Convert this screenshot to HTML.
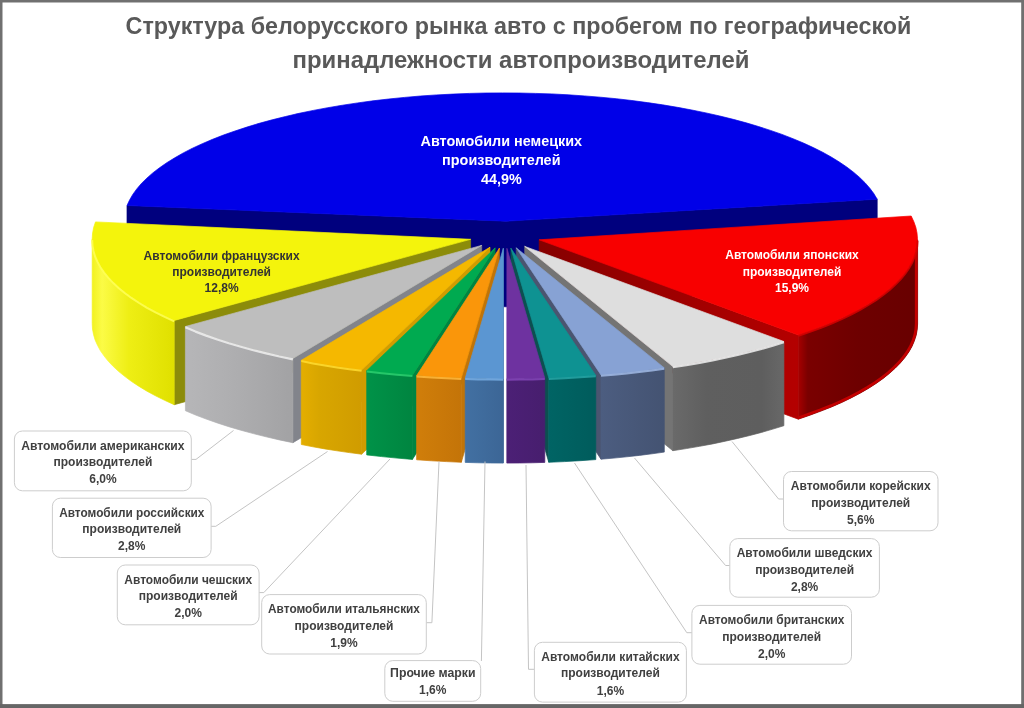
<!DOCTYPE html>
<html lang="ru"><head><meta charset="utf-8"><title>Структура белорусского рынка авто с пробегом</title>
<style>
html,body{margin:0;padding:0;background:#fff;}
body{width:1024px;height:708px;overflow:hidden;font-family:"Liberation Sans",sans-serif;}
svg{display:block}
.ttl{font-family:"Liberation Sans",sans-serif;font-weight:bold;font-size:24px;fill:#595959}
.lb{font-family:"Liberation Sans",sans-serif;font-weight:bold;font-size:12px;fill:#404040;text-anchor:middle}
.big{font-size:14.4px}
#pie path{stroke-width:0.7;stroke-linejoin:round}
</style></head><body>
<svg width="1024" height="708" viewBox="0 0 1024 708">
<defs>
<linearGradient id="c1" gradientUnits="userSpaceOnUse" x1="539.2" y1="0" x2="798.3" y2="0"><stop offset="0" stop-color="#860000"/><stop offset="1" stop-color="#b40000"/></linearGradient>
<linearGradient id="w1" gradientUnits="userSpaceOnUse" x1="798.3" y1="0" x2="917.6" y2="0"><stop offset="0" stop-color="#a60000"/><stop offset="0.08" stop-color="#7a0000"/><stop offset="0.5" stop-color="#6e0000"/><stop offset="1" stop-color="#680000"/></linearGradient>
<clipPath id="cp1"><path d="M917.6 239.8 L917.2 245.5 L916.2 251 L914.4 256.6 L912 262.2 L908.9 267.7 L905.1 273.1 L900.6 278.5 L895.4 283.8 L889.6 289.1 L883.2 294.2 L876.1 299.3 L868.4 304.2 L860.1 309 L851.1 313.7 L841.7 318.3 L831.6 322.7 L821 326.9 L809.9 331 L798.3 335 L798.3 419.2 L809.9 415.2 L821 411.1 L831.6 406.9 L841.7 402.5 L851.1 397.9 L860.1 393.2 L868.4 388.4 L876.1 383.5 L883.2 378.4 L889.6 373.3 L895.4 368 L900.6 362.7 L905.1 357.3 L908.9 351.9 L912 346.4 L914.4 340.8 L916.2 335.2 L917.2 329.7 L917.6 324Z"/></clipPath>
<linearGradient id="w11" gradientUnits="userSpaceOnUse" x1="92.2" y1="0" x2="174.2" y2="0"><stop offset="0" stop-color="#f2f220"/><stop offset="0.12" stop-color="#fbfb46"/><stop offset="0.45" stop-color="#eeee14"/><stop offset="1" stop-color="#e0e000"/></linearGradient>
<linearGradient id="w2" gradientUnits="userSpaceOnUse" x1="672.8" y1="0" x2="783.9" y2="0"><stop offset="0" stop-color="#6a6a6a"/><stop offset="0.3" stop-color="#5f5f5f"/><stop offset="0.8" stop-color="#5e5e5e"/><stop offset="1" stop-color="#686868"/></linearGradient>
<linearGradient id="w10" gradientUnits="userSpaceOnUse" x1="185.4" y1="0" x2="292.9" y2="0"><stop offset="0" stop-color="#b6b6b8"/><stop offset="0.5" stop-color="#adadaf"/><stop offset="1" stop-color="#a2a2a4"/></linearGradient>
<linearGradient id="w3" gradientUnits="userSpaceOnUse" x1="601" y1="0" x2="664.3" y2="0"><stop offset="0" stop-color="#4c5d80"/><stop offset="1" stop-color="#445372"/></linearGradient>
<linearGradient id="w9" gradientUnits="userSpaceOnUse" x1="301.3" y1="0" x2="361.6" y2="0"><stop offset="0" stop-color="#e4ae00"/><stop offset="0.3" stop-color="#d8a600"/><stop offset="1" stop-color="#d09c00"/></linearGradient>
<linearGradient id="w4" gradientUnits="userSpaceOnUse" x1="548.8" y1="0" x2="595.8" y2="0"><stop offset="0" stop-color="#006464"/><stop offset="1" stop-color="#005c5c"/></linearGradient>
<linearGradient id="w8" gradientUnits="userSpaceOnUse" x1="366.7" y1="0" x2="412.4" y2="0"><stop offset="0" stop-color="#009248"/><stop offset="1" stop-color="#008540"/></linearGradient>
<linearGradient id="w5" gradientUnits="userSpaceOnUse" x1="506.8" y1="0" x2="544.8" y2="0"><stop offset="0" stop-color="#4c2076"/><stop offset="1" stop-color="#471e6e"/></linearGradient>
<linearGradient id="w7" gradientUnits="userSpaceOnUse" x1="416.6" y1="0" x2="461.3" y2="0"><stop offset="0" stop-color="#d07e0a"/><stop offset="1" stop-color="#c47408"/></linearGradient>
<linearGradient id="w6" gradientUnits="userSpaceOnUse" x1="465.2" y1="0" x2="503.2" y2="0"><stop offset="0" stop-color="#4270a2"/><stop offset="1" stop-color="#3c6696"/></linearGradient>
</defs>
<rect x="0" y="0" width="1024" height="708" fill="#707070"/>
<rect x="0" y="704" width="1024" height="4" fill="#666"/>
<rect x="2.5" y="2.5" width="1018.7" height="701.6" fill="#fff"/>
<text x="125.6" y="34" class="ttl" textLength="785.8" lengthAdjust="spacingAndGlyphs">Структура белорусского рынка авто с пробегом по географической</text>
<text x="292.5" y="67.7" class="ttl" textLength="457" lengthAdjust="spacingAndGlyphs">принадлежности автопроизводителей</text>
<g id="pie">
<path d="M127 205.5 L506 221.2 L877.2 199.2 L877.2 284.8 L506 306.8 L127 291.1Z" fill="#00007e" stroke="#00007e"/>
<path d="M506 221.2 L127 205.5 L129.6 200 L132.8 194.4 L136.8 188.9 L141.4 183.5 L146.8 178.2 L152.8 172.9 L159.5 167.8 L166.8 162.7 L174.8 157.8 L183.3 152.9 L192.5 148.2 L202.3 143.7 L212.6 139.3 L223.5 135 L235 131 L246.9 127.1 L259.3 123.3 L272.2 119.8 L285.5 116.5 L299.2 113.3 L313.3 110.4 L327.8 107.7 L342.6 105.2 L357.7 102.9 L373 100.8 L388.7 99 L404.5 97.4 L420.5 96 L436.7 94.9 L453 94.1 L469.4 93.4 L485.9 93 L502.4 92.9 L518.9 93 L535.4 93.4 L551.8 93.9 L568.1 94.8 L584.3 95.9 L600.4 97.2 L616.2 98.7 L631.9 100.5 L647.3 102.6 L662.5 104.8 L677.3 107.3 L691.8 110 L706 112.9 L719.8 116 L733.1 119.3 L746.1 122.8 L758.5 126.5 L770.5 130.4 L782 134.4 L793 138.7 L803.4 143 L813.3 147.6 L822.6 152.2 L831.2 157 L839.3 162 L846.7 167 L853.5 172.2 L859.6 177.4 L865 182.7 L869.8 188.2 L873.8 193.6 L877.2 199.2Z" fill="#0000e8" stroke="#0000e8"/>
<path d="M539.2 239.8 L798.3 335 L798.3 419.2 L539.2 324Z" fill="url(#c1)" stroke="url(#c1)"/>
<path d="M917.6 239.8 L917.2 245.5 L916.2 251 L914.4 256.6 L912 262.2 L908.9 267.7 L905.1 273.1 L900.6 278.5 L895.4 283.8 L889.6 289.1 L883.2 294.2 L876.1 299.3 L868.4 304.2 L860.1 309 L851.1 313.7 L841.7 318.3 L831.6 322.7 L821 326.9 L809.9 331 L798.3 335 L798.3 419.2 L809.9 415.2 L821 411.1 L831.6 406.9 L841.7 402.5 L851.1 397.9 L860.1 393.2 L868.4 388.4 L876.1 383.5 L883.2 378.4 L889.6 373.3 L895.4 368 L900.6 362.7 L905.1 357.3 L908.9 351.9 L912 346.4 L914.4 340.8 L916.2 335.2 L917.2 329.7 L917.6 324Z" fill="url(#w1)" stroke="url(#w1)"/>
<path d="M798.3 419.2 L809.9 415.2 L821 411.1 L831.6 406.9 L841.7 402.5 L851.1 397.9 L860.1 393.2 L868.4 388.4 L876.1 383.5 L883.2 378.4 L889.6 373.3 L895.4 368 L900.6 362.7 L905.1 357.3 L908.9 351.9 L912 346.4 L914.4 340.8 L916.2 335.2 L917.2 329.7 L917.6 324 L917.6 245.8" fill="none" stroke="#c40000" style="stroke-width:5.5" clip-path="url(#cp1)"/>
<path d="M539.2 239.8 L911.2 216 L913.8 221.6 L915.8 227.2 L917 232.9 L917.5 238.6 L917.3 244.2 L916.4 249.9 L914.8 255.6 L912.5 261.2 L909.4 266.8 L905.7 272.3 L901.3 277.7 L896.1 283.1 L890.3 288.4 L883.9 293.7 L876.8 298.8 L869 303.8 L860.7 308.7 L851.7 313.4 L842.1 318.1 L832 322.5 L821.3 326.8 L810.1 331 L798.3 335Z" fill="#f80000" stroke="#f80000"/>
<path d="M917.6 240.6 L917.2 246.3 L916.2 251.8 L914.4 257.4 L912 263 L908.9 268.5 L905.1 273.9 L900.6 279.3 L895.4 284.6 L889.6 289.9 L883.2 295 L876.1 300.1 L868.4 305 L860.1 309.8 L851.1 314.5 L841.7 319.1 L831.6 323.5 L821 327.7 L809.9 331.8 L798.3 335.8" fill="none" stroke="#d80000" style="stroke-width:2.0" stroke-opacity="0.85"/>
<path d="M470.6 239.3 L174.2 320.5 L174.2 404.7 L470.6 323.5Z" fill="#8c8c0a" stroke="#8c8c0a"/>
<path d="M174.2 320.5 L164.6 316.1 L155.5 311.6 L147 307 L139.1 302.2 L131.7 297.4 L125 292.4 L118.8 287.4 L113.3 282.3 L108.3 277.1 L104.1 271.8 L100.4 266.5 L97.5 261.1 L95.1 255.7 L93.5 250.2 L92.5 244.8 L92.2 239.3 L92.2 323.5 L92.5 329 L93.5 334.4 L95.1 339.9 L97.5 345.3 L100.4 350.7 L104.1 356 L108.3 361.3 L113.3 366.5 L118.8 371.6 L125 376.6 L131.7 381.6 L139.1 386.4 L147 391.2 L155.5 395.8 L164.6 400.3 L174.2 404.7Z" fill="url(#w11)" stroke="url(#w11)"/>
<path d="M470.6 239.3 L174.2 320.5 L164.5 316.1 L155.4 311.5 L146.8 306.8 L138.8 302.1 L131.4 297.1 L124.6 292.1 L118.4 287 L112.8 281.8 L107.9 276.6 L103.7 271.2 L100.1 265.9 L97.1 260.4 L94.9 254.9 L93.3 249.4 L92.4 243.9 L92.2 238.4 L92.6 232.9 L93.7 227.3 L95.5 221.9Z" fill="#f4f40c" stroke="#f4f40c"/>
<path d="M174.2 321.3 L164.6 316.9 L155.5 312.4 L147 307.8 L139.1 303 L131.7 298.2 L125 293.2 L118.8 288.2 L113.3 283.1 L108.3 277.9 L104.1 272.6 L100.4 267.3 L97.5 261.9 L95.1 256.5 L93.5 251 L92.5 245.6 L92.2 240.1" fill="none" stroke="#ffff58" style="stroke-width:2.0" stroke-opacity="0.85"/>
<path d="M524.7 246.4 L672.8 366.5 L672.8 450.7 L524.7 330.6Z" fill="#747474" stroke="#747474"/>
<path d="M783.9 341.5 L772.9 344.9 L761.5 348.2 L749.8 351.3 L737.7 354.2 L725.3 357 L712.6 359.7 L699.6 362.1 L686.3 364.4 L672.8 366.5 L672.8 450.7 L686.3 448.6 L699.6 446.3 L712.6 443.9 L725.3 441.2 L737.7 438.4 L749.8 435.5 L761.5 432.4 L772.9 429.1 L783.9 425.7Z" fill="url(#w2)" stroke="url(#w2)"/>
<path d="M524.7 246.4 L783.9 341.5 L772.9 344.9 L761.5 348.2 L749.8 351.3 L737.7 354.2 L725.3 357 L712.6 359.7 L699.6 362.1 L686.3 364.4 L672.8 366.5Z" fill="#dedede" stroke="#dedede"/>
<path d="M783.9 342.3 L772.9 345.7 L761.5 349 L749.8 352.1 L737.7 355 L725.3 357.8 L712.6 360.5 L699.6 362.9 L686.3 365.2 L672.8 367.3" fill="none" stroke="#f0f0f0" style="stroke-width:2.0" stroke-opacity="0.85"/>
<path d="M481.7 245.4 L292.9 358.5 L292.9 442.7 L481.7 329.6Z" fill="#82848b" stroke="#82848b"/>
<path d="M292.9 358.5 L279.4 355.7 L266.1 352.6 L253.3 349.4 L240.8 346 L228.8 342.5 L217.2 338.7 L206.1 334.8 L195.5 330.8 L185.4 326.5 L185.4 410.7 L195.5 415 L206.1 419 L217.2 422.9 L228.8 426.7 L240.8 430.2 L253.3 433.6 L266.1 436.8 L279.4 439.9 L292.9 442.7Z" fill="url(#w10)" stroke="url(#w10)"/>
<path d="M481.7 245.4 L292.9 358.5 L279.4 355.7 L266.1 352.6 L253.3 349.4 L240.8 346 L228.8 342.5 L217.2 338.7 L206.1 334.8 L195.5 330.8 L185.4 326.5Z" fill="#bebebe" stroke="#bebebe"/>
<path d="M292.9 359.3 L279.4 356.5 L266.1 353.4 L253.3 350.2 L240.8 346.8 L228.8 343.3 L217.2 339.5 L206.1 335.6 L195.5 331.6 L185.4 327.3" fill="none" stroke="#f0f0f0" style="stroke-width:2.2" stroke-opacity="0.85"/>
<path d="M516.2 247.8 L601 375 L601 459.2 L516.2 332Z" fill="#4a5570" stroke="#4a5570"/>
<path d="M664.3 367.9 L652 369.6 L639.4 371.2 L626.8 372.6 L614 373.9 L601 375 L601 459.2 L614 458.1 L626.8 456.8 L639.4 455.4 L652 453.8 L664.3 452.1Z" fill="url(#w3)" stroke="url(#w3)"/>
<path d="M516.2 247.8 L664.3 367.9 L652 369.6 L639.4 371.2 L626.8 372.6 L614 373.9 L601 375Z" fill="#87a2d4" stroke="#87a2d4"/>
<path d="M664.3 368.7 L652 370.4 L639.4 372 L626.8 373.4 L614 374.7 L601 375.8" fill="none" stroke="#a0b8e4" style="stroke-width:2.0" stroke-opacity="0.85"/>
<path d="M490 247.2 L361.6 370 L361.6 454.2 L490 331.4Z" fill="#d09c00" stroke="#d09c00"/>
<path d="M361.6 370 L349.2 368.4 L336.9 366.6 L324.8 364.7 L312.9 362.6 L301.3 360.3 L301.3 444.5 L312.9 446.8 L324.8 448.9 L336.9 450.8 L349.2 452.6 L361.6 454.2Z" fill="url(#w9)" stroke="url(#w9)"/>
<path d="M490 247.2 L361.6 370 L349.2 368.4 L336.9 366.6 L324.8 364.7 L312.9 362.6 L301.3 360.3Z" fill="#f5b800" stroke="#f5b800"/>
<path d="M361.6 370.8 L349.2 369.2 L336.9 367.4 L324.8 365.5 L312.9 363.4 L301.3 361.1" fill="none" stroke="#ffdc30" style="stroke-width:2.0" stroke-opacity="0.85"/>
<path d="M510.9 248.2 L548.8 378.1 L548.8 462.3 L510.9 332.4Z" fill="#0c5050" stroke="#0c5050"/>
<path d="M595.8 375.4 L580.2 376.5 L564.6 377.4 L548.8 378.1 L548.8 462.3 L564.6 461.6 L580.2 460.7 L595.8 459.6Z" fill="url(#w4)" stroke="url(#w4)"/>
<path d="M510.9 248.2 L595.8 375.4 L580.2 376.5 L564.6 377.4 L548.8 378.1Z" fill="#0e9292" stroke="#0e9292"/>
<path d="M595.8 376.2 L580.2 377.3 L564.6 378.2 L548.8 378.9" fill="none" stroke="#26a4a4" style="stroke-width:2.0" stroke-opacity="0.85"/>
<path d="M495.1 247.9 L412.4 375.2 L412.4 459.4 L495.1 332.1Z" fill="#008442" stroke="#008442"/>
<path d="M412.4 375.2 L397 373.9 L381.7 372.4 L366.7 370.7 L366.7 454.9 L381.7 456.6 L397 458.1 L412.4 459.4Z" fill="url(#w8)" stroke="url(#w8)"/>
<path d="M495.1 247.9 L412.4 375.2 L397 373.9 L381.7 372.4 L366.7 370.7Z" fill="#00aa50" stroke="#00aa50"/>
<path d="M412.4 376 L397 374.7 L381.7 373.2 L366.7 371.5" fill="none" stroke="#2cd070" style="stroke-width:2.0" stroke-opacity="0.85"/>
<path d="M544.8 378.2 L532.2 378.6 L519.5 378.8 L506.8 378.9 L506.8 463.1 L519.5 463 L532.2 462.8 L544.8 462.4Z" fill="url(#w5)" stroke="url(#w5)"/>
<path d="M506.9 248.3 L544.8 378.2 L532.2 378.6 L519.5 378.8 L506.8 378.9Z" fill="#6e32a0" stroke="#6e32a0"/>
<path d="M544.8 379 L532.2 379.4 L519.5 379.6 L506.8 379.7" fill="none" stroke="#8446b8" style="stroke-width:2.0" stroke-opacity="0.85"/>
<path d="M499.4 248.2 L461.3 378.1 L461.3 462.3 L499.4 332.4Z" fill="#c07408" stroke="#c07408"/>
<path d="M461.3 378.1 L446.3 377.4 L431.4 376.6 L416.6 375.6 L416.6 459.8 L431.4 460.8 L446.3 461.6 L461.3 462.3Z" fill="url(#w7)" stroke="url(#w7)"/>
<path d="M499.4 248.2 L461.3 378.1 L446.3 377.4 L431.4 376.6 L416.6 375.6Z" fill="#fa960a" stroke="#fa960a"/>
<path d="M461.3 378.9 L446.3 378.2 L431.4 377.4 L416.6 376.4" fill="none" stroke="#ffb83c" style="stroke-width:2.0" stroke-opacity="0.85"/>
<path d="M503.3 248.3 L503.2 378.9 L503.2 463.1 L503.3 332.5Z" fill="#3a6492" stroke="#3a6492"/>
<path d="M503.2 378.9 L490.5 378.8 L477.8 378.6 L465.2 378.2 L465.2 462.4 L477.8 462.8 L490.5 463 L503.2 463.1Z" fill="url(#w6)" stroke="url(#w6)"/>
<path d="M503.3 248.3 L503.2 378.9 L490.5 378.8 L477.8 378.6 L465.2 378.2Z" fill="#5b96d2" stroke="#5b96d2"/>
<path d="M503.2 379.7 L490.5 379.6 L477.8 379.4 L465.2 379" fill="none" stroke="#78aee4" style="stroke-width:2.0" stroke-opacity="0.85"/>
</g>
<g id="inlabels">
<text x="501.3" y="146" class="lb big" style="fill:#fff">Автомобили немецких</text>
<text x="501.3" y="164.8" class="lb big" style="fill:#fff">производителей</text>
<text x="501.3" y="183.6" class="lb big" style="fill:#fff">44,9%</text>
<text x="221.6" y="259.7" class="lb" style="fill:#333">Автомобили французских</text>
<text x="221.6" y="275.7" class="lb" style="fill:#333">производителей</text>
<text x="221.6" y="291.7" class="lb" style="fill:#333">12,8%</text>
<text x="792" y="259.3" class="lb" style="fill:#fff">Автомобили японских</text>
<text x="792" y="275.5" class="lb" style="fill:#fff">производителей</text>
<text x="792" y="291.7" class="lb" style="fill:#fff">15,9%</text>
</g>
<g id="labels">
<polyline points="191.3,459.4 196,459.4 233.5,430.5" fill="none" stroke="#c4c4c4" stroke-width="1"/>
<polyline points="211.1,526.3 215.8,526.3 327.5,451.5" fill="none" stroke="#c4c4c4" stroke-width="1"/>
<polyline points="259.1,592.6 263.8,592.6 390,459" fill="none" stroke="#c4c4c4" stroke-width="1"/>
<polyline points="426.3,622.7 431.9,622.7 439,461.5" fill="none" stroke="#c4c4c4" stroke-width="1"/>
<polyline points="481.4,661 485,461.5" fill="none" stroke="#c4c4c4" stroke-width="1"/>
<polyline points="534.4,669.3 528.5,669.3 526,465" fill="none" stroke="#c4c4c4" stroke-width="1"/>
<polyline points="691.9,632.7 686.8,632.7 574.5,463" fill="none" stroke="#c4c4c4" stroke-width="1"/>
<polyline points="729.8,565.5 725.6,565.5 634.5,458" fill="none" stroke="#c4c4c4" stroke-width="1"/>
<polyline points="783.5,499 778.6,499 732,441.5" fill="none" stroke="#c4c4c4" stroke-width="1"/>
<rect x="14.4" y="431" width="176.9" height="59.8" rx="8" ry="8" fill="#fff" stroke="#cdcdcd" stroke-width="1"/>
<text x="102.9" y="449.5" class="lb" textLength="163.4" lengthAdjust="spacingAndGlyphs">Автомобили американских</text>
<text x="102.9" y="466.1" class="lb" textLength="98.9" lengthAdjust="spacingAndGlyphs">производителей</text>
<text x="102.9" y="483.2" class="lb">6,0%</text>
<rect x="52.4" y="498.2" width="158.7" height="59.3" rx="8" ry="8" fill="#fff" stroke="#cdcdcd" stroke-width="1"/>
<text x="131.8" y="516.7" class="lb" textLength="145.3" lengthAdjust="spacingAndGlyphs">Автомобили российских</text>
<text x="131.8" y="533.3" class="lb" textLength="98.9" lengthAdjust="spacingAndGlyphs">производителей</text>
<text x="131.8" y="550.4" class="lb">2,8%</text>
<rect x="117.3" y="565" width="141.8" height="59.8" rx="8" ry="8" fill="#fff" stroke="#cdcdcd" stroke-width="1"/>
<text x="188.2" y="583.5" class="lb" textLength="127.7" lengthAdjust="spacingAndGlyphs">Автомобили чешских</text>
<text x="188.2" y="600.1" class="lb" textLength="98.9" lengthAdjust="spacingAndGlyphs">производителей</text>
<text x="188.2" y="617.2" class="lb">2,0%</text>
<rect x="261.7" y="594.6" width="164.6" height="59.4" rx="8" ry="8" fill="#fff" stroke="#cdcdcd" stroke-width="1"/>
<text x="344" y="613.1" class="lb" textLength="151.9" lengthAdjust="spacingAndGlyphs">Автомобили итальянских</text>
<text x="344" y="629.7" class="lb" textLength="98.9" lengthAdjust="spacingAndGlyphs">производителей</text>
<text x="344" y="646.8" class="lb">1,9%</text>
<rect x="384.8" y="660.6" width="95.9" height="40.7" rx="8" ry="8" fill="#fff" stroke="#cdcdcd" stroke-width="1"/>
<text x="432.8" y="677.3" class="lb" textLength="85.4" lengthAdjust="spacingAndGlyphs">Прочие марки</text>
<text x="432.8" y="694.4" class="lb">1,6%</text>
<rect x="534.4" y="642.3" width="152" height="59.8" rx="8" ry="8" fill="#fff" stroke="#cdcdcd" stroke-width="1"/>
<text x="610.4" y="660.8" class="lb" textLength="138.4" lengthAdjust="spacingAndGlyphs">Автомобили китайских</text>
<text x="610.4" y="677.4" class="lb" textLength="98.9" lengthAdjust="spacingAndGlyphs">производителей</text>
<text x="610.4" y="694.5" class="lb">1,6%</text>
<rect x="691.9" y="605.4" width="159.6" height="58.8" rx="8" ry="8" fill="#fff" stroke="#cdcdcd" stroke-width="1"/>
<text x="771.7" y="623.9" class="lb" textLength="145.3" lengthAdjust="spacingAndGlyphs">Автомобили британских</text>
<text x="771.7" y="640.5" class="lb" textLength="98.9" lengthAdjust="spacingAndGlyphs">производителей</text>
<text x="771.7" y="657.6" class="lb">2,0%</text>
<rect x="729.8" y="538.6" width="149.6" height="58.6" rx="8" ry="8" fill="#fff" stroke="#cdcdcd" stroke-width="1"/>
<text x="804.6" y="557.1" class="lb" textLength="135.8" lengthAdjust="spacingAndGlyphs">Автомобили шведских</text>
<text x="804.6" y="573.7" class="lb" textLength="98.9" lengthAdjust="spacingAndGlyphs">производителей</text>
<text x="804.6" y="590.8" class="lb">2,8%</text>
<rect x="783.5" y="471.5" width="154.5" height="59.3" rx="8" ry="8" fill="#fff" stroke="#cdcdcd" stroke-width="1"/>
<text x="860.8" y="490" class="lb" textLength="139.9" lengthAdjust="spacingAndGlyphs">Автомобили корейских</text>
<text x="860.8" y="506.6" class="lb" textLength="98.9" lengthAdjust="spacingAndGlyphs">производителей</text>
<text x="860.8" y="523.7" class="lb">5,6%</text>
</g>
</svg>
</body></html>
